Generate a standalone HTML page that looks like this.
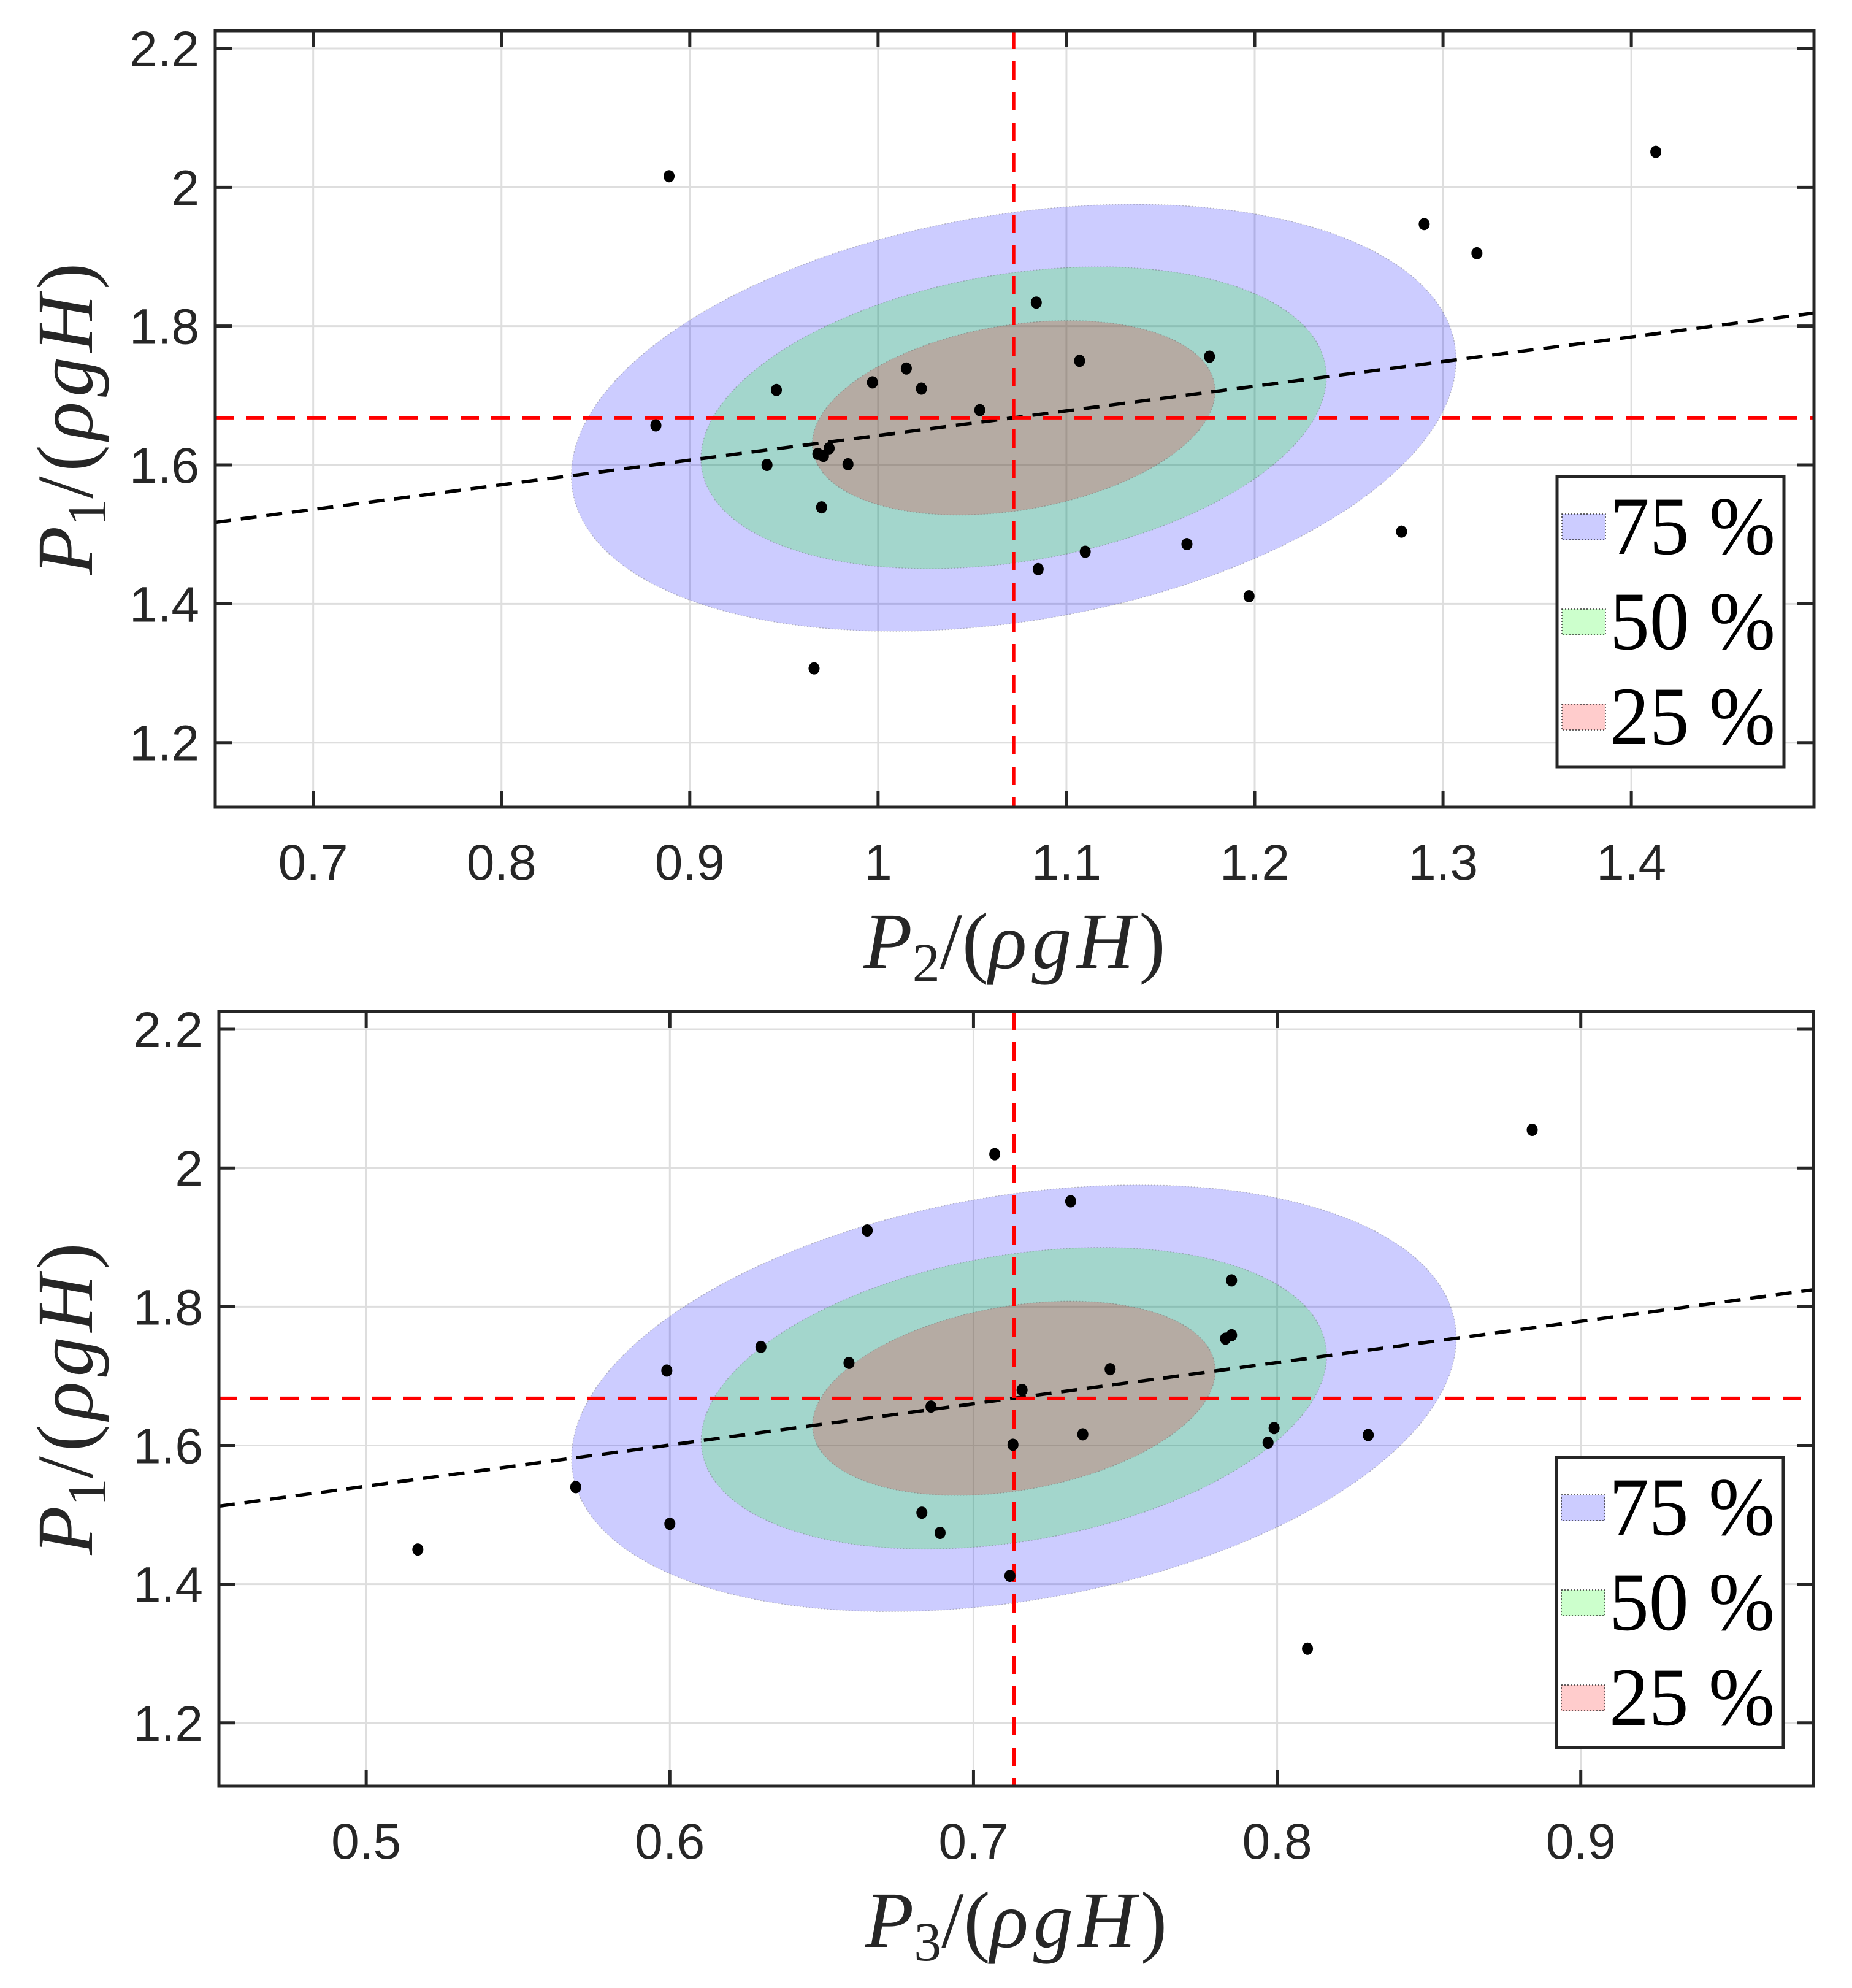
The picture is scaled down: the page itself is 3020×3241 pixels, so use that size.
<!DOCTYPE html>
<html><head><meta charset="utf-8"><style>
html,body{margin:0;padding:0;background:#fff;}
svg{display:block;}
.tick{font-family:"Liberation Sans",sans-serif;font-size:82px;fill:#262626;}
.lab{font-family:"Liberation Serif",serif;font-size:130px;fill:#262626;}
.leg{font-family:"Liberation Serif",serif;font-size:135px;fill:#000;}
</style></head><body>
<svg id="chart" xmlns="http://www.w3.org/2000/svg" width="3020" height="3241" viewBox="0 0 3020 3241"></svg>
<script>
// ---- Data: top panel (P2 vs P1) ----
const topX = [0.889,1.413,1.290,1.318,1.084,1.176,1.107,1.015,0.997,1.023,0.946,1.054,0.882,0.974,0.968,0.971,0.941,0.984,0.970,1.278,1.164,1.110,1.085,1.197,0.966];
const topY = [2.016,2.051,1.947,1.905,1.834,1.756,1.750,1.739,1.719,1.710,1.708,1.679,1.657,1.624,1.616,1.613,1.600,1.601,1.539,1.504,1.486,1.475,1.450,1.411,1.307];
const topXTicks = [0.7,0.8,0.9,1.0,1.1,1.2,1.3,1.4];
const topXTickLabels = ["0.7","0.8","0.9","1","1.1","1.2","1.3","1.4"];
const topMean = [1.072, 1.668];
const topStd = [0.1411, 0.1847];
const topCov = [0.00707];
// ---- Data: bottom panel (P3 vs P1) ----
const botX = [0.884,0.707,0.732,0.665,0.785,0.785,0.783,0.630,0.659,0.599,0.745,0.716,0.686,0.736,0.830,0.799,0.797,0.713,0.569,0.683,0.600,0.689,0.517,0.712,0.810];
const botY = [2.055,2.020,1.952,1.910,1.838,1.759,1.754,1.742,1.719,1.708,1.710,1.680,1.656,1.616,1.615,1.625,1.604,1.601,1.540,1.503,1.487,1.474,1.450,1.412,1.307];
const botXTicks = [0.5,0.6,0.7,0.8,0.9];
const botXTickLabels = ["0.5","0.6","0.7","0.8","0.9"];
const botMean = [0.7133, 1.668];
const botStd = [0.0875, 0.1847];
const botCov = [0.00455];
// ---- shared ----
const yTicks = [1.2,1.4,1.6,1.8,2.0,2.2];
const yTickLabels = ["1.2","1.4","1.6","1.8","2","2.2"];
const levels = [75,50,25];
const levelK = [1.665,1.177,0.758];
const levelColors = ["rgb(0,0,255)","rgb(0,255,0)","rgb(255,0,0)"];
const legendLabels = ["75 %","50 %","25 %"];

const NS="http://www.w3.org/2000/svg";
const svg=document.getElementById('chart');
function mk(tag,attrs,parent){const e=document.createElementNS(NS,tag);for(const k in attrs)e.setAttribute(k,attrs[k]);(parent||svg).appendChild(e);return e;}

function panel(o){
  const g=mk('g',{});
  
  
  const L=o.box[0],T=o.box[1],R=o.box[2],B=o.box[3];
  const sx=v=>L+(v-o.xlim[0])/(o.xlim[1]-o.xlim[0])*(R-L);
  const sy=v=>B-(v-o.ylim[0])/(o.ylim[1]-o.ylim[0])*(B-T);
  const clipId='clip'+o.name;
  const cp=mk('clipPath',{id:clipId},g);mk('rect',{x:L,y:T,width:R-L,height:B-T},cp);
  o.xt.forEach(v=>{const l=mk('line',{x1:sx(v),x2:sx(v),y1:T,y2:B,stroke:'#dedede','stroke-width':3},g);});
  yTicks.forEach(v=>{const l=mk('line',{x1:L,x2:R,y1:sy(v),y2:sy(v),stroke:'#dedede','stroke-width':3},g);});
  const cg=mk('g',{'clip-path':'url(#'+clipId+')'},g);
  const mx=o.mean[0],my=o.mean[1],a=o.std[0],b=o.std[1],c=o.cov[0];
  const rho=c/(a*b);
  levels.forEach((lv,i)=>{
    const k=levelK[i];let d='';
    for(let j=0;j<=180;j++){const t=j/180*2*Math.PI;
      const u=Math.cos(t),w=Math.sin(t);
      const dx=k*a*u, dy=k*b*(rho*u+Math.sqrt(1-rho*rho)*w);
      d+=(j?'L':'M')+sx(mx+dx).toFixed(1)+','+sy(my+dy).toFixed(1);}
    const p=mk('path',{d:d+'Z',fill:levelColors[i],'fill-opacity':0.2,stroke:'#555','stroke-opacity':0.35,'stroke-width':1.5,'stroke-dasharray':'2,3'},cg);
    
    
  });
  const slope=c/(a*a);
  const x0=o.xlim[0],x1=o.xlim[1];
  const rl=mk('line',{x1:sx(x0),y1:sy(my+slope*(x0-mx)),x2:sx(x1),y2:sy(my+slope*(x1-mx)),stroke:'#000','stroke-width':5.5,'stroke-dasharray':'26,16'},cg);
  
  
  const mv=mk('line',{x1:sx(mx),x2:sx(mx),y1:T,y2:B,stroke:'#ff0000','stroke-width':5.5,'stroke-dasharray':'30,20'},cg);
  
  
  const mh=mk('line',{x1:L,x2:R,y1:sy(my),y2:sy(my),stroke:'#ff0000','stroke-width':5.5,'stroke-dasharray':'30,20'},cg);
  
  
  o.px.forEach((v,i)=>{const p=mk('ellipse',{cx:sx(v),cy:sy(o.py[i]),rx:9,ry:10,fill:'#000'},cg);
    
    });
  const bx=mk('rect',{x:L,y:T,width:R-L,height:B-T,fill:'none',stroke:'#262626','stroke-width':5},g);
  
  
  o.xt.forEach((v,i)=>{
    mk('line',{x1:sx(v),x2:sx(v),y1:B,y2:B-27,stroke:'#262626','stroke-width':5},g);
    mk('line',{x1:sx(v),x2:sx(v),y1:T,y2:T+27,stroke:'#262626','stroke-width':5},g);
    const t=mk('text',{x:sx(v),y:B+118,'text-anchor':'middle',class:'tick'},g);t.textContent=o.xl[i];
    
    
  });
  yTicks.forEach((v,i)=>{
    mk('line',{x1:L,x2:L+27,y1:sy(v),y2:sy(v),stroke:'#262626','stroke-width':5},g);
    mk('line',{x1:R,x2:R-27,y1:sy(v),y2:sy(v),stroke:'#262626','stroke-width':5},g);
    const t=mk('text',{x:L-26,y:sy(v)+29,'text-anchor':'end',class:'tick'},g);t.textContent=yTickLabels[i];
    
    
  });
  const xlab=mk('text',{x:(L+R)/2,y:B+262,'text-anchor':'middle',class:'lab'},g);
  xlab.innerHTML='<tspan font-style="italic">P</tspan><tspan font-size="90" dy="22">'+o.sub+'</tspan><tspan dy="-22">/(</tspan><tspan font-style="italic" letter-spacing="8">ρgH</tspan><tspan>)</tspan>';
  
  
  const cy=(T+B)/2;
  const ylab=mk('text',{x:0,y:0,'text-anchor':'middle',class:'lab',transform:'translate(150,'+cy+') rotate(-90)'},g);
  ylab.innerHTML='<tspan font-style="italic">P</tspan><tspan font-size="90" dy="22">1</tspan><tspan dy="-22" letter-spacing="8">/(</tspan><tspan font-style="italic" letter-spacing="8">ρgH</tspan><tspan>)</tspan>';
  
  
  const lg=mk('g',{},g);
  
  
  const lx=R-419,ly=T+727;
  mk('rect',{x:lx,y:ly,width:370,height:473,fill:'#fff',stroke:'#262626','stroke-width':5},lg);
  legendLabels.forEach((s,i)=>{
    const yc=ly+82+i*155;
    const r=mk('rect',{x:lx+8,y:yc-21,width:71,height:42,fill:levelColors[i],'fill-opacity':0.2,stroke:'#333','stroke-width':1.5,'stroke-dasharray':'2,3'},lg);
    
    
    const t=mk('text',{x:lx+86,y:yc+44,class:'leg',textLength:270,lengthAdjust:'spacingAndGlyphs'},lg);t.textContent=s;
    
    
  });
}

panel({name:'top-panel',box:[351,50,2958,1316],xlim:[0.648,1.497],ylim:[1.107,2.2256],
  xt:topXTicks,xl:topXTickLabels,px:topX,py:topY,mean:topMean,std:topStd,cov:topCov,sub:'2'});
panel({name:'bottom-panel',box:[357,1649,2957,2912],xlim:[0.4515,0.9766],ylim:[1.1087,2.2257],
  xt:botXTicks,xl:botXTickLabels,px:botX,py:botY,mean:botMean,std:botStd,cov:botCov,sub:'3'});
</script>
</body></html>
